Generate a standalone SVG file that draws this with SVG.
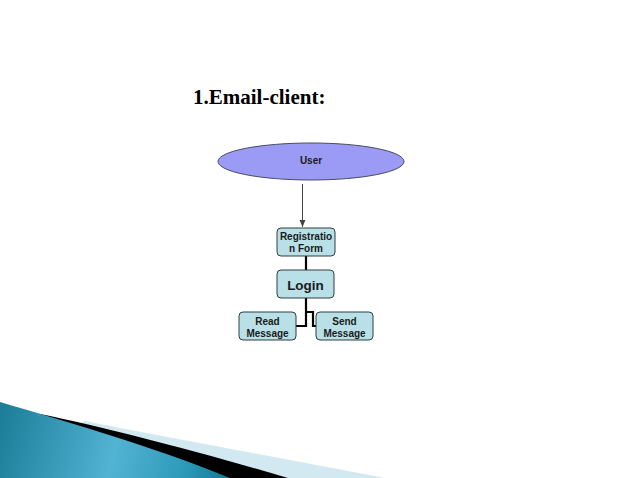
<svg xmlns="http://www.w3.org/2000/svg" width="638" height="478" viewBox="0 0 638 478">
<defs>
<style>
.box{fill:#b8e0e6;stroke:#2f3f42;stroke-width:1}
.t{font-family:"Liberation Sans",Arial,sans-serif;font-weight:bold;fill:#1a1a1a;text-anchor:middle}
.c{fill:none;stroke:#000;stroke-width:2.2}
</style>
<linearGradient id="teal" gradientUnits="userSpaceOnUse" x1="0" y1="420" x2="230" y2="478">
<stop offset="0" stop-color="#1c7e98"/>
<stop offset="0.5" stop-color="#52b3d3"/>
<stop offset="0.8" stop-color="#2e9aba"/>
<stop offset="1" stop-color="#117994"/>
</linearGradient>
<marker id="arr" markerWidth="8" markerHeight="8" refX="7" refY="4" orient="auto" markerUnits="userSpaceOnUse">
<path d="M0,1 L7,4 L0,7 Z" fill="#444"/>
</marker>
</defs>
<rect width="638" height="478" fill="#fff"/>
<g id="decor">
<path d="M85,421 C150,434 280,458 385,478 L0,478 Z" fill="#d3e9f1"/>
<path d="M40,414 C100,426 200,452 288,478 L0,478 Z" fill="#000"/>
<path d="M0,402 C60,420 150,445 230,478 L0,478 Z" fill="url(#teal)"/>
</g>
<text x="193" y="104" font-family="'Liberation Serif','Times New Roman',serif" font-weight="bold" font-size="21" fill="#000">1.Email-client:</text>
<g id="connectors">
<line x1="302.5" y1="184" x2="302.5" y2="227" stroke="#444" stroke-width="1" marker-end="url(#arr)"/>
<line class="c" x1="306" y1="256" x2="306" y2="270"/>
<polyline class="c" points="306,298 306,326 296,326"/>
<polyline class="c" points="306,312 313,312 313,326 316,326"/>
</g>
<g id="user">
<ellipse cx="311" cy="161.5" rx="93" ry="18.5" fill="#9b9bf5" stroke="#4a4a60" stroke-width="1"/>
<text class="t" x="311" y="164" font-size="10">User</text>
</g>
<g id="registration">
<rect class="box" x="277" y="228" width="58" height="28" rx="4"/>
<text class="t" x="306" y="240" font-size="10">Registratio</text>
<text class="t" x="306" y="252" font-size="10">n Form</text>
</g>
<g id="login">
<rect class="box" x="277" y="270" width="57" height="28" rx="4"/>
<text class="t" x="305.5" y="289.5" font-size="13.5">Login</text>
</g>
<g id="read">
<rect class="box" x="239" y="312" width="57" height="28" rx="4"/>
<text class="t" x="267.5" y="324.5" font-size="10">Read</text>
<text class="t" x="267.5" y="336.5" font-size="10">Message</text>
</g>
<g id="send">
<rect class="box" x="316" y="312" width="57" height="28" rx="4"/>
<text class="t" x="344.5" y="324.5" font-size="10">Send</text>
<text class="t" x="344.5" y="336.5" font-size="10">Message</text>
</g>
</svg>
